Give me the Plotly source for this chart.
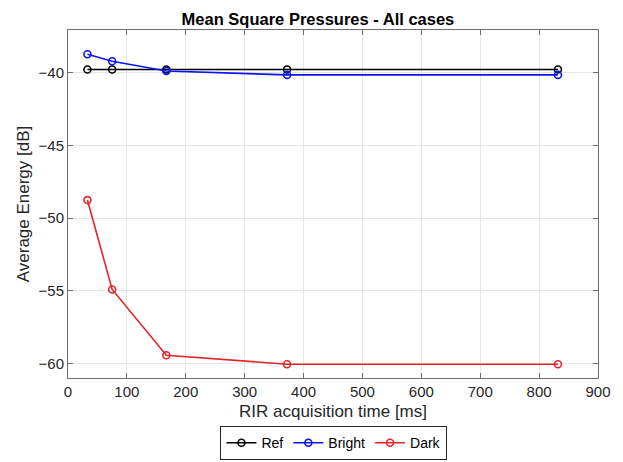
import plotly.graph_objects as go

acq_time = [33, 75, 167, 372, 832]
ref_db = [-39.78, -39.78, -39.78, -39.78, -39.78]
bright_db = [-38.73, -39.21, -39.88, -40.15, -40.15]
dark_db = [-48.76, -54.91, -59.43, -60.05, -60.05]
x_ticks = list(range(0, 901, 100))
y_ticks = [-60, -55, -50, -45, -40]

series = [("Ref", ref_db, "#000000"), ("Bright", bright_db, "#0a14f0"), ("Dark", dark_db, "#e3262a")]

fig = go.Figure()
for name, vals, col in series:
    fig.add_trace(go.Scatter(
        x=acq_time, y=vals, name=name, mode="lines+markers",
        line=dict(color=col, width=1.6),
        marker=dict(symbol="circle-open", size=7, color=col, line=dict(width=1.6, color=col)),
    ))

font = "Liberation Sans, Arial, Helvetica, sans-serif"
axis_common = dict(
    showline=True, linecolor="#6e6e6e", linewidth=1, mirror="ticks",
    ticks="inside", ticklen=5, tickcolor="#6e6e6e",
    showgrid=True, gridcolor="#e6e6e6", gridwidth=1, zeroline=False,
    automargin=False,
    tickfont=dict(family=font, size=15, color="#262626"),
)
fig.update_xaxes(range=[0, 900], tickvals=x_ticks,
                 title=dict(text="RIR acquisition time [ms]", font=dict(family=font, size=17, color="#262626"), standoff=6),
                 **axis_common)
fig.update_yaxes(range=[-61, -37.06], tickvals=y_ticks,
                 title=dict(text="Average Energy [dB]", font=dict(family=font, size=17, color="#262626"), standoff=4),
                 **axis_common)

fig.update_layout(
    width=615, height=454,
    margin=dict(l=60, r=25, t=22, b=84, autoexpand=False),
    plot_bgcolor="white", paper_bgcolor="white",
    title=dict(text="<b>Mean Square Pressures - All cases</b>", x=0.504, xanchor="center",
               yref="container", y=0.988, yanchor="top", pad=dict(t=0, b=0),
               font=dict(family=font, size=16.5, color="#000000")),
    legend=dict(orientation="h", xref="container", yref="container", x=0.53, xanchor="center",
                y=0.004, yanchor="bottom",
                bordercolor="#262626", borderwidth=1, bgcolor="white",
                font=dict(family=font, size=14, color="#000000"),
                itemwidth=30, tracegroupgap=0),
    showlegend=True,
)

fig.write_html("out.html")
